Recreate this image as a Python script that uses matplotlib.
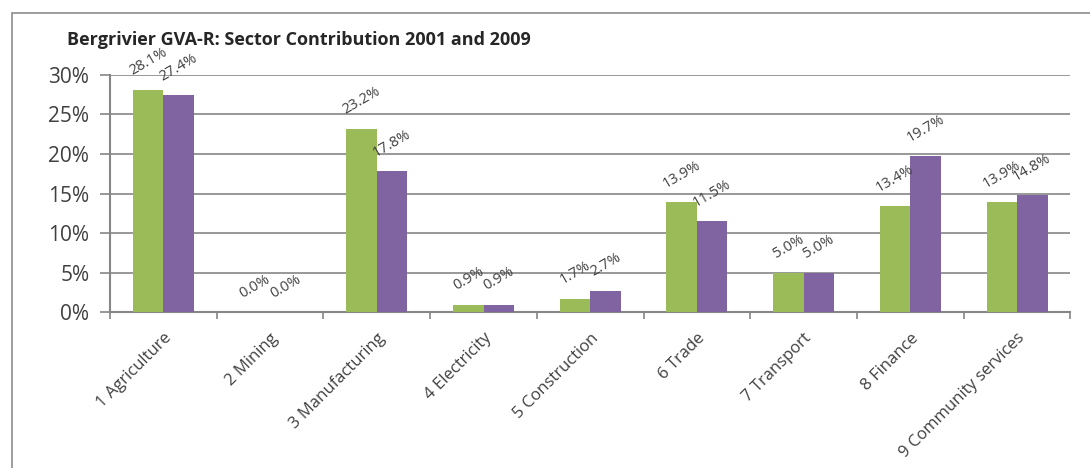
import matplotlib.pyplot as plt
from matplotlib.patches import Rectangle
from matplotlib.ticker import FuncFormatter
import numpy as np

plt.rcParams['font.family'] = ['Open Sans', 'DejaVu Sans']

sectors = ["1 Agriculture", "2 Mining", "3 Manufacturing", "4 Electricity",
           "5 Construction", "6 Trade", "7 Transport", "8 Finance",
           "9 Community services"]
share_2001 = [28.1, 0.0, 23.2, 0.9, 1.7, 13.9, 5.0, 13.4, 13.9]
share_2009 = [27.4, 0.0, 17.8, 0.9, 2.7, 11.5, 5.0, 19.7, 14.8]
y_ticks = [0, 5, 10, 15, 20, 25, 30]

green = '#9BBB59'
purple = '#8064A2'
grey = '#868686'
text_col = '#404040'


def main():
    fig = plt.figure(figsize=(10.9, 4.68), dpi=100)
    ax = fig.add_axes([0.101, 0.333, 0.881, 0.507])

    # chart area border (cut off at right and bottom like the source)
    fig.patches.append(Rectangle((12 / 1090, -0.1), 1.2, 0.972 + 0.1,
                                 transform=fig.transFigure, fill=False,
                                 edgecolor='#8c8c8c', linewidth=1.2))

    x = np.arange(len(sectors))
    w = 1 / 3.5
    b1 = ax.bar(x - w / 2, share_2001, w, color=green, zorder=3)
    b2 = ax.bar(x + w / 2, share_2009, w, color=purple, zorder=3)

    for bars, vals in ((b1, share_2001), (b2, share_2009)):
        for rect, v in zip(bars, vals):
            ax.annotate(f"{v:.1f}%", (rect.get_x() + rect.get_width() / 2, v),
                        xytext=(0, 8), textcoords='offset points',
                        ha='center', va='bottom', rotation=30,
                        fontsize=10.5, color=text_col, zorder=4)

    ax.set_xlim(-0.5, len(sectors) - 0.5)
    ax.set_ylim(0, 30)
    ax.set_yticks(y_ticks)
    ax.yaxis.set_major_formatter(FuncFormatter(lambda v, p: f"{v:.0f}%"))
    ax.tick_params(axis='y', length=7, width=1.2, color=grey, pad=8,
                   labelsize=15, labelcolor=text_col, direction='out')
    ax.yaxis.grid(True, color=grey, linewidth=1.2, zorder=0)

    ax.set_xticks(x)
    ax.set_xticklabels(sectors, rotation=45, ha='right', rotation_mode='anchor',
                       fontsize=12, color=text_col)
    ax.tick_params(axis='x', which='major', length=0, pad=13)
    ax.set_xticks(np.arange(-0.5, len(sectors)), minor=True)
    ax.tick_params(axis='x', which='minor', length=5, width=1.2, color=grey,
                   direction='out')

    for side in ('top', 'right'):
        ax.spines[side].set_visible(False)
    for side in ('left', 'bottom'):
        ax.spines[side].set_color(grey)
        ax.spines[side].set_linewidth(1.5)

    fig.text(67 / 1090, 0.904, "Bergrivier GVA-R: Sector Contribution 2001 and 2009",
             fontsize=13, fontweight='bold', color='#262626')

    plt.savefig("out.png", dpi=100)


main()
